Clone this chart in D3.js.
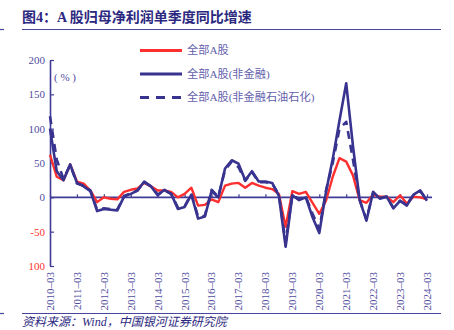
<!DOCTYPE html>
<html lang="zh">
<head>
<meta charset="UTF-8">
<title>A股归母净利润单季度同比增速</title>
<script src="https://d3js.org/d3.v7.min.js"></script>
<style>
  body { margin: 0; background: #fff; }
  svg { display: block; font-family: "Liberation Serif", "Noto Sans CJK SC", serif; }
</style>
</head>
<body>
<svg id="chart" width="454" height="330"></svg>
<script>
// year ticks on the x axis (first quarter of each year)
const yearTicks = ["2010-03", "2011-03", "2012-03", "2013-03", "2014-03", "2015-03", "2016-03",
  "2017-03", "2018-03", "2019-03", "2020-03", "2021-03", "2022-03", "2023-03", "2024-03"];
const quarterMonths = ["03", "06", "09", "12"];

// y ticks and the labels printed next to them
const yTicks = [200, 150, 100, 50, 0, -50, -100];
const yLabels = ["200", "150", "100", "50", "0", "-50", "100"];

// single-quarter YoY growth (%), 2010-03 .. 2024-03
const allA = [62, 30, 25, 48, 23, 20, 10, -7, 0, -2, -3, 8, 11, 13, 21, 16, 10, 10, 8, 0,
  5, 14, -12, -11, -3, -7, 17, 20, 21, 14, 21, 17, 14, 12, 5, -43, 9, 5, 8, -8,
  -24, -5, 30, 57, 52, 32, -4, -8, 4, 1, 1, -7, 3, -9, 1, 0, -3];
const nonFin = [100, 38, 25, 48, 21, 16, 9, -20, -17, -18, -19, 1, 5, 10, 23, 16, 3, 11, 5, -17,
  -14, 4, -31, -28, 9, 0, 42, 54, 49, 25, 38, 23, 23, 21, 2, -72, 3, -4, 0, -29,
  -52, 8, 56, 112, 166, 75, -4, -34, 8, -2, 1, -16, -5, -12, 4, 10, -5];
const nonFinOil = [118, 55, 27, 47, 20, 17, 10, -18, -16, -17, -18, 2, 6, 10, 22, 16, 4, 10, 5, -15,
  -13, 5, -28, -27, 11, 1, 40, 52, 44, 24, 37, 22, 22, 20, 4, -66, 4, -3, 1, -24,
  -46, 10, 50, 100, 110, 55, -4, -32, 7, -1, 1, -15, -5, -11, 4, 9, -4];

const quarters = [];
for (let yr = 2010; yr <= 2024; yr++) {
  quarterMonths.forEach(m => quarters.push(yr + "-" + m));
}
quarters.length = allA.length;

const series = [
  { name: "全部A股", values: allA, color: "#fe2f2f", width: 2.4, dash: null },
  { name: "全部A股(非金融)", values: nonFin, color: "#38338f", width: 2.6, dash: null },
  { name: "全部A股(非金融石油石化)", values: nonFinOil, color: "#38338f", width: 2.6, dash: "8,6" }
];

const navy = "#2b2880";
const axisColor = "#3f3b96";
const labelColor = "#4f4ca0";
const negColor = "#ff3030";

const svg = d3.select("#chart");

// header and footer
svg.append("text")
  .attr("x", 22).attr("y", 22)
  .attr("fill", navy)
  .style("font-size", "14px")
  .style("font-weight", "bold")
  .text("图4：A 股归母净利润单季度同比增速");

[29.5, 313.5].forEach(yy => {
  svg.append("line").attr("x1", 22).attr("x2", 441).attr("y1", yy).attr("y2", yy)
    .attr("stroke", "#4845a0").attr("stroke-width", 1.2);
  svg.append("line").attr("x1", 0).attr("x2", 4).attr("y1", yy).attr("y2", yy)
    .attr("stroke", "#4845a0").attr("stroke-width", 1.2);
});

svg.append("text")
  .attr("x", 22).attr("y", 326)
  .attr("fill", navy)
  .style("font-size", "12px")
  .style("font-style", "italic")
  .text("资料来源：Wind，中国银河证券研究院");

// scales
const x = d3.scaleLinear().domain([0, quarters.length - 1]).range([50, 427]);
const y = d3.scaleLinear().domain([-100, 200]).range([266, 60]);

// y axis
const yAxis = svg.append("g")
  .attr("transform", "translate(50,0)")
  .call(d3.axisLeft(y)
    .tickValues(yTicks)
    .tickSizeInner(-4)
    .tickSizeOuter(0)
    .tickPadding(5)
    .tickFormat((d, i) => yLabels[i]));
yAxis.select(".domain").attr("stroke", axisColor).attr("stroke-width", 1.6);
yAxis.selectAll(".tick line").attr("stroke", axisColor).attr("stroke-width", 1.2);
yAxis.selectAll(".tick text")
  .attr("fill", d => d < 0 ? negColor : labelColor)
  .style("font-size", "11px")
  .style("font-family", "Liberation Serif, serif");

svg.append("text")
  .attr("x", 54).attr("y", 81)
  .attr("fill", labelColor)
  .style("font-size", "11px")
  .text("( % )");

// x axis along zero
const yearIdx = yearTicks.map(t => quarters.indexOf(t));
const xAxis = svg.append("g")
  .attr("transform", "translate(0," + y(0) + ")")
  .call(d3.axisBottom(x).tickValues(yearIdx).tickSize(-3).tickFormat(""));
xAxis.select(".domain").remove();
xAxis.selectAll(".tick line").attr("stroke", axisColor).attr("stroke-width", 1.2);
xAxis.append("line")
  .attr("x1", x(0)).attr("x2", 432)
  .attr("stroke", axisColor).attr("stroke-width", 1.6);

// rotated year labels below the plot
svg.append("g")
  .selectAll("text")
  .data(yearTicks)
  .join("text")
  .attr("transform", (d, i) => "translate(" + x(yearIdx[i]) + ",272) rotate(-90)")
  .attr("text-anchor", "end")
  .attr("dy", "0.35em")
  .attr("fill", labelColor)
  .style("font-size", "11px")
  .text(d => d.replace("-", "–"));

// series lines
const line = d3.line()
  .x((d, i) => x(i))
  .y(d => y(d));

svg.append("g")
  .selectAll("path")
  .data(series)
  .join("path")
  .attr("d", s => line(s.values))
  .attr("fill", "none")
  .attr("stroke", s => s.color)
  .attr("stroke-width", s => s.width)
  .attr("stroke-dasharray", s => s.dash)
  .attr("stroke-linejoin", "round");

// legend
const legend = svg.append("g")
  .selectAll("g")
  .data(series)
  .join("g")
  .attr("transform", (s, i) => "translate(140," + [50.5, 74, 97.5][i] + ")");
legend.append("line")
  .attr("x1", 0).attr("x2", 42)
  .attr("stroke", s => s.color)
  .attr("stroke-width", s => s.width + 0.4)
  .attr("stroke-dasharray", s => s.dash ? "9,7" : null);
legend.append("text")
  .attr("x", 47)
  .attr("dy", "0.35em")
  .attr("fill", "#6360ac")
  .style("font-size", "11.2px")
  .text(s => s.name);
</script>
</body>
</html>
